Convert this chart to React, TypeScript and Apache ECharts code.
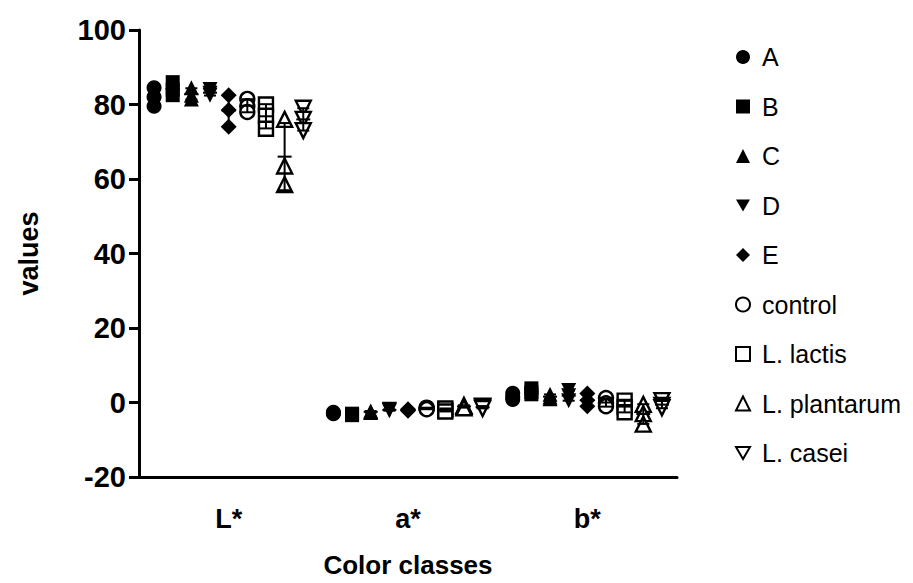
import React, { useEffect, useRef } from "react";
import * as echarts from "echarts";

const categories = ["L*", "a*", "b*"];
const yTicks = [-20, 0, 20, 40, 60, 80, 100];
const seriesNames = ["A", "B", "C", "D", "E", "control", "L. lactis", "L. plantarum", "L. casei"];

// replicate values per category: [L*], [a*], [b*]
const valuesA = [[84.5, 82, 79.5], [-2.8, -2.6, -3.0], [2.5, 1.5, 0.8]];
const valuesB = [[86, 84, 82.5], [-3.2, -3.0, -3.4], [3.8, 2.8, 2.2]];
const valuesC = [[84.5, 82.5, 81.5], [-2.5, -2.3, -2.7], [2.2, 1.5, 1.0]];
const valuesD = [[84, 83, 82.5], [-2.0, -2.2, -1.8], [3.2, 1.8, 0.5]];
const valuesE = [[82.5, 78.5, 74], [-2.0, -1.8, -2.2], [2.4, 0.6, -1.0]];
const valuesControl = [[81.5, 79.5, 78], [-1.6, -1.4, -1.8], [1.2, -0.2, -1.0]];
const valuesLactis = [[80, 77, 73.5], [-2.0, -1.6, -2.4], [0.5, -1.2, -2.6]];
const valuesPlantarum = [[76, 63.5, 58.5], [-1.0, -0.8, -1.4], [-0.5, -3.0, -5.8]];
const valuesCasei = [[79, 76, 73], [-1.2, -1.0, -1.6], [0.5, -0.8, -1.4]];

const allValues = [valuesA, valuesB, valuesC, valuesD, valuesE, valuesControl, valuesLactis, valuesPlantarum, valuesCasei];

const DOWN = "path://M0,0L10,0L5,8.7Z";
const symbols = ["circle", "rect", "triangle", DOWN, "diamond", "circle", "rect", "triangle", DOWN];
const symbolSizes = [15, 14, 15, 15, 16, 14, 14, 15, 15];
const openMarker = [false, false, false, false, false, true, true, true, true];

const STEP = 0.104;
const FONT = "'Liberation Sans', Arial, sans-serif";

function mean(a: number[]) {
  return a.reduce((s, v) => s + v, 0) / a.length;
}
function sd(a: number[]) {
  const m = mean(a);
  return Math.sqrt(a.reduce((s, v) => s + (v - m) * (v - m), 0) / (a.length - 1));
}

export default function App() {
  const ref = useRef<HTMLDivElement>(null);
  useEffect(() => {
    document.body.style.margin = "0";
    if (!ref.current) return;
    const chart = echarts.init(ref.current, undefined, { renderer: "svg" });

    const scatterSeries = seriesNames.map((name, i) => ({
      name,
      type: "scatter",
      xAxisIndex: 1,
      yAxisIndex: 0,
      symbol: symbols[i],
      symbolSize: symbolSizes[i],
      itemStyle: openMarker[i]
        ? { color: "#ffffff", borderColor: "#000000", borderWidth: 2.4, opacity: 1 }
        : { color: "#000000", opacity: 1 },
      z: 3,
      data: categories.flatMap((_, ci) => allValues[i][ci].map((v) => [ci + (i - 4) * STEP, v])),
    }));

    const errData: number[][] = [];
    seriesNames.forEach((_, i) => {
      categories.forEach((__, ci) => {
        const arr = allValues[i][ci];
        errData.push([ci + (i - 4) * STEP, mean(arr), sd(arr)]);
      });
    });

    const errSeries = {
      type: "custom",
      name: "err",
      xAxisIndex: 1,
      yAxisIndex: 0,
      z: 4,
      data: errData,
      renderItem: (params: any, api: any) => {
        const x = api.value(0);
        const m = api.value(1);
        const s = api.value(2);
        const top = api.coord([x, m + s]);
        const bot = api.coord([x, m - s]);
        const mid = api.coord([x, m]);
        const cw = 6;
        const mw = 7;
        const st = { stroke: "#000", lineWidth: 2 };
        return {
          type: "group",
          children: [
            { type: "line", shape: { x1: top[0], y1: top[1], x2: bot[0], y2: bot[1] }, style: st },
            { type: "line", shape: { x1: top[0] - cw, y1: top[1], x2: top[0] + cw, y2: top[1] }, style: st },
            { type: "line", shape: { x1: bot[0] - cw, y1: bot[1], x2: bot[0] + cw, y2: bot[1] }, style: st },
            { type: "line", shape: { x1: mid[0] - mw, y1: mid[1], x2: mid[0] + mw, y2: mid[1] }, style: st },
          ],
        };
      },
    };

    chart.setOption({
      animation: false,
      backgroundColor: "#ffffff",
      textStyle: { fontFamily: FONT },
      grid: { left: 139, right: 236, top: 30, bottom: 102, containLabel: false },
      legend: {
        data: seriesNames,
        orient: "vertical",
        left: 730,
        top: 39,
        itemWidth: 14,
        itemHeight: 14,
        itemGap: 23.5,
        textStyle: { fontSize: 25, fontFamily: FONT, color: "#000", padding: [0, 0, 0, 7], lineHeight: 26 },
        selectedMode: false,
      },
      xAxis: [
        {
          type: "category",
          data: categories,
          boundaryGap: true,
          axisLine: { onZero: false, lineStyle: { color: "#000", width: 3 } },
          axisTick: { alignWithLabel: true, length: 17, lineStyle: { color: "#000", width: 3 } },
          axisLabel: { color: "#000", fontSize: 27, fontWeight: "bold", fontFamily: FONT, margin: 28 },
          name: "Color classes",
          nameLocation: "middle",
          nameGap: 75,
          nameTextStyle: { color: "#000", fontSize: 26, fontWeight: "bold", fontFamily: FONT },
        },
        {
          type: "value",
          min: -0.5,
          max: 2.5,
          show: false,
        },
      ],
      yAxis: {
        type: "value",
        min: -20,
        max: 100,
        interval: 20,
        splitLine: { show: false },
        axisLine: { show: true, onZero: false, lineStyle: { color: "#000", width: 3 } },
        axisTick: { show: true, length: 10, lineStyle: { color: "#000", width: 3 } },
        axisLabel: {
          color: "#000",
          fontSize: 29,
          fontWeight: "bold",
          fontFamily: FONT,
          margin: 13,
          formatter: (v: number) => (yTicks.includes(v) ? String(v) : ""),
        },
        name: "values",
        nameLocation: "middle",
        nameGap: 97,
        nameTextStyle: { color: "#000", fontSize: 27, fontWeight: "bold", fontFamily: FONT },
      },
      series: [...scatterSeries, errSeries],
    });
    return () => chart.dispose();
  }, []);
  return <div ref={ref} style={{ width: 913, height: 583 }} />;
}
